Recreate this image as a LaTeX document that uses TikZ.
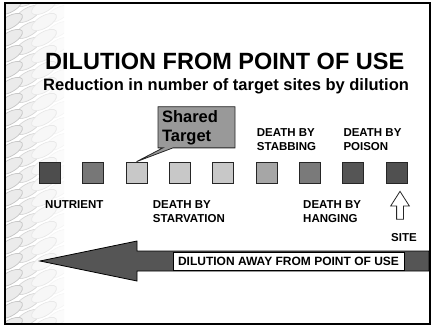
\documentclass[tikz,border=0pt]{standalone}
\usepackage{fontspec}
\setmainfont{Liberation Sans}
\usetikzlibrary{shapes.arrows,shapes.callouts}

\definecolor{sqA}{HTML}{4D4D4D}
\definecolor{sqB}{HTML}{777777}
\definecolor{sqC}{HTML}{C8C8C8}
\definecolor{sqD}{HTML}{A6A6A6}
\definecolor{sqE}{HTML}{7A7A7A}
\definecolor{sqF}{HTML}{555555}
\definecolor{sqG}{HTML}{505050}
\definecolor{boxgray}{HTML}{999999}

\begin{document}
\begin{tikzpicture}[x=1pt,y=-1pt,
  sq/.style={draw=black!85, line width=0.8pt, minimum size=21pt, inner sep=0pt},
  lbl/.style={font=\fontsize{11.5}{14}\selectfont\bfseries, align=left, inner sep=0pt, anchor=north west}]

\useasboundingbox (0,0) rectangle (435,330);

\begin{scope}
\clip (6,4) rectangle (64,323);
\foreach \yy in {-10,6,...,340}{
       \foreach \xx/\f/\d/\dy in {10/16/45/0,28/11/32/8,44/6/18/0,58/3/8/8}{
              \filldraw[fill=gray!\f, draw=gray!\d, line width=0.7pt, rotate around={30:(\xx,\yy+\dy)}] (\xx,\yy+\dy) ellipse (14 and 6);
       }
}
\end{scope}

\node[font=\fontsize{23.5}{28}\selectfont\bfseries, inner sep=0pt, anchor=north west] (title) at (45,53) {DILUTION FROM POINT OF USE};
\node[font=\fontsize{16.5}{20}\selectfont\bfseries, inner sep=0pt, anchor=north west] (sub) at (43,78) {Reduction in number of target sites by dilution};

\def\dx{43.3};
\foreach \i/\c in {1/sqA,2/sqB,3/sqC,4/sqC,5/sqC,6/sqD,7/sqE,8/sqF,9/sqG}{
       \node[sq, fill=\c] (s\i) at ({50+\dx*(\i-1)}, 172.5) {};
}

\node[rectangle callout, draw=black!85, fill=boxgray, line width=0.8pt,
      callout absolute pointer={(s3.north)}, callout pointer width=10pt,
      text width=69pt, inner xsep=4pt, minimum height=39pt, align=left,
      font=\fontsize{16.5}{19}\selectfont\bfseries] (shared) at (196.5,127.3) {Shared\\Target};

\node[lbl] (stab) at (256.7,128.3) {DEATH BY\\STABBING};
\node[lbl] (poison) at (343.3,128.3) {DEATH BY\\POISON};
\node[lbl] (nut) at (45,200) {NUTRIENT};
\node[lbl] (starv) at (152.7,200) {DEATH BY\\STARVATION};
\node[lbl] (hang) at (303,200) {DEATH BY\\HANGING};

\node[single arrow, draw=black!85, fill=white, line width=0.8pt, shape border rotate=90,
      minimum height=28pt, minimum width=18pt, inner sep=3pt,
      single arrow head extend=6pt, single arrow tip angle=65] (up) at (400,208) {};
\node[lbl] (site) at (391,233.5) {SITE};

\coordinate (tip) at (40,261);
\fill[sqF, draw=black, line width=0.8pt] (tip) -- (137,241) -- (137,251) -- (429,251)
       -- (429,271) -- (137,271) -- (137,281) -- cycle;
\node[draw=black, fill=white, line width=0.8pt, minimum width=231pt, minimum height=18pt, inner sep=0pt,
      font=\fontsize{12}{14}\selectfont\bfseries] (dilbox) at (288.5,261) {DILUTION AWAY FROM POINT OF USE};

\draw[line width=2pt] (5,3) rectangle (430,324);

\end{tikzpicture}
\end{document}
